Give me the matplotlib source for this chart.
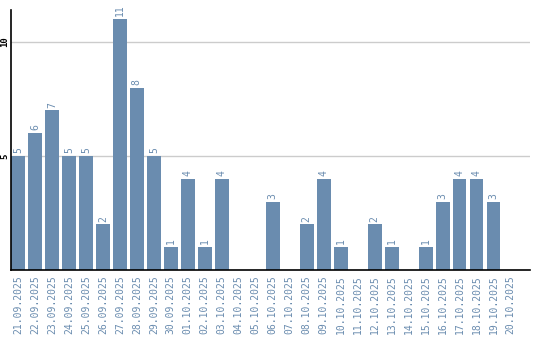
import matplotlib
matplotlib.use("Agg")
import matplotlib.pyplot as plt

dates = ["21.09.2025","22.09.2025","23.09.2025","24.09.2025","25.09.2025","26.09.2025",
         "27.09.2025","28.09.2025","29.09.2025","30.09.2025","01.10.2025","02.10.2025",
         "03.10.2025","04.10.2025","05.10.2025","06.10.2025","07.10.2025","08.10.2025",
         "09.10.2025","10.10.2025","11.10.2025","12.10.2025","13.10.2025","14.10.2025",
         "15.10.2025","16.10.2025","17.10.2025","18.10.2025","19.10.2025","20.10.2025"]
values = [5,6,7,5,5,2,11,8,5,1,4,1,4,0,0,3,0,2,4,1,0,2,1,0,1,3,4,4,3,0]
yticks = [5, 10]

color = "#6a8caf"
fig = plt.figure(figsize=(5.4, 3.4), dpi=100)
ax = fig.add_axes([11/540, 70/340, 519/540, 260/340])
x = list(range(len(values)))
ax.bar(x, values, width=0.82, color=color, zorder=2)
ax.set_xlim(-0.41, 30.15)
ax.set_ylim(0, 11.4)
ax.set_yticks(yticks)
ax.set_yticklabels([str(t) for t in yticks])
for lab in ax.get_yticklabels():
    lab.set_rotation(90)
    lab.set_fontsize(6.5)
    lab.set_fontweight("bold")
    lab.set_family("DejaVu Sans Mono")
    lab.set_va("center")
ax.tick_params(axis="y", length=0, pad=1)
ax.set_xticks(x)
ax.set_xticklabels(dates, rotation=90, fontsize=7, color=color, family="DejaVu Sans Mono")
ax.tick_params(axis="x", length=0, pad=4)
ax.grid(axis="y", color="#cccccc", linewidth=1, zorder=0)
for s in ["top", "right"]:
    ax.spines[s].set_visible(False)
ax.spines["left"].set_linewidth(1.2)
ax.spines["bottom"].set_linewidth(1.2)
for xi, v in zip(x, values):
    if v > 0:
        ax.annotate(str(v), (xi, v), xytext=(0, 2), textcoords="offset points",
                    rotation=90, ha="center", va="bottom", fontsize=7, color=color,
                    family="DejaVu Sans Mono")
fig.savefig("out.png", dpi=100)
